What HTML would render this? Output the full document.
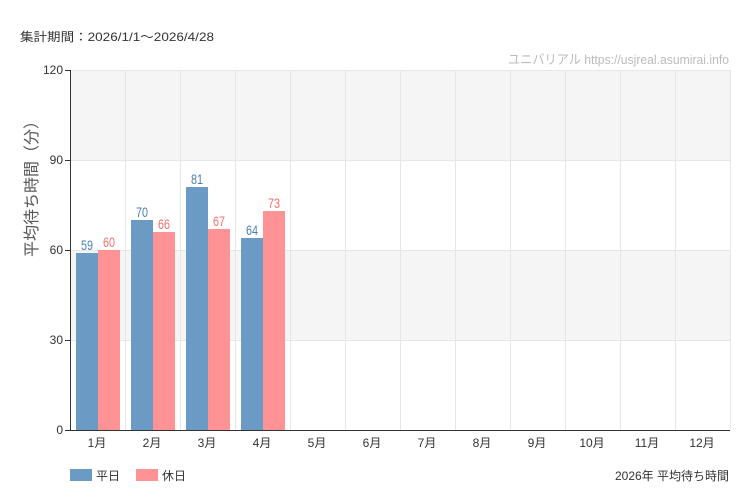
<!DOCTYPE html>
<html><head><meta charset="utf-8"><style>
body{margin:0;background:#fff}
svg{display:block;font-family:"Liberation Sans","Noto Sans CJK JP",sans-serif}
</style></head><body>
<svg width="750" height="500" viewBox="0 0 750 500">
<rect width="750" height="500" fill="#fff"/>
<text x="20" y="41" font-size="12" fill="#333" textLength="194" lengthAdjust="spacingAndGlyphs">集計期間：2026/1/1～2026/4/28</text>
<text x="508" y="64" font-size="13" fill="#bbb" textLength="221" lengthAdjust="spacingAndGlyphs">ユニバリアル  https://usjreal.asumirai.info</text>
<rect x="70" y="70" width="660" height="90" fill="#f5f5f5"/>
<rect x="70" y="250" width="660" height="90" fill="#f5f5f5"/>
<g stroke="#e6e6e6" stroke-width="1">
<line x1="70" y1="70.5" x2="730" y2="70.5"/><line x1="70" y1="160.5" x2="730" y2="160.5"/>
<line x1="70" y1="250.5" x2="730" y2="250.5"/><line x1="70" y1="340.5" x2="730" y2="340.5"/>
<line x1="125.5" y1="70" x2="125.5" y2="430"/><line x1="180.5" y1="70" x2="180.5" y2="430"/>
<line x1="235.5" y1="70" x2="235.5" y2="430"/><line x1="290.5" y1="70" x2="290.5" y2="430"/>
<line x1="345.5" y1="70" x2="345.5" y2="430"/><line x1="400.5" y1="70" x2="400.5" y2="430"/>
<line x1="455.5" y1="70" x2="455.5" y2="430"/><line x1="510.5" y1="70" x2="510.5" y2="430"/>
<line x1="565.5" y1="70" x2="565.5" y2="430"/><line x1="620.5" y1="70" x2="620.5" y2="430"/>
<line x1="675.5" y1="70" x2="675.5" y2="430"/><line x1="730.5" y1="70" x2="730.5" y2="430"/>
</g>
<g fill="#6b9ac4">
<rect x="76" y="253" width="22" height="177"/><rect x="131" y="220" width="22" height="210"/>
<rect x="186" y="187" width="22" height="243"/><rect x="241" y="238" width="22" height="192"/>
</g>
<g fill="#ff9294">
<rect x="98" y="250" width="22" height="180"/><rect x="153" y="232" width="22" height="198"/>
<rect x="208" y="229" width="22" height="201"/><rect x="263" y="211" width="22" height="219"/>
</g>
<g font-size="14" lengthAdjust="spacingAndGlyphs">
<g fill="#4a7fb5"><text x="81" y="250" textLength="12" lengthAdjust="spacingAndGlyphs">59</text><text x="136" y="217" textLength="12" lengthAdjust="spacingAndGlyphs">70</text><text x="191" y="184" textLength="12" lengthAdjust="spacingAndGlyphs">81</text><text x="246" y="235" textLength="12" lengthAdjust="spacingAndGlyphs">64</text></g>
<g fill="#f76f6f"><text x="103" y="247" textLength="12" lengthAdjust="spacingAndGlyphs">60</text><text x="158" y="229" textLength="12" lengthAdjust="spacingAndGlyphs">66</text><text x="213" y="226" textLength="12" lengthAdjust="spacingAndGlyphs">67</text><text x="268" y="208" textLength="12" lengthAdjust="spacingAndGlyphs">73</text></g>
</g>
<line x1="70.5" y1="70" x2="70.5" y2="430" stroke="#333"/>
<line x1="70" y1="430.5" x2="730" y2="430.5" stroke="#333"/>
<g stroke="#333"><line x1="65" y1="70.5" x2="70" y2="70.5"/><line x1="65" y1="160.5" x2="70" y2="160.5"/><line x1="65" y1="250.5" x2="70" y2="250.5"/><line x1="65" y1="340.5" x2="70" y2="340.5"/><line x1="65" y1="430.5" x2="70" y2="430.5"/></g>
<g font-size="12" fill="#333" text-anchor="end">
<text x="63" y="74">120</text><text x="63" y="164">90</text><text x="63" y="254">60</text><text x="63" y="344">30</text><text x="63" y="434">0</text>
</g>
<g font-size="12" fill="#333" text-anchor="middle">
<text x="97" y="447">1月</text><text x="152" y="447">2月</text><text x="207" y="447">3月</text><text x="262" y="447">4月</text>
<text x="317" y="447">5月</text><text x="372" y="447">6月</text><text x="427" y="447">7月</text><text x="482" y="447">8月</text>
<text x="537" y="447">9月</text><text x="592" y="447">10月</text><text x="647" y="447">11月</text><text x="702" y="447">12月</text>
</g>
<text transform="translate(37,185) rotate(-90)" font-size="16" fill="#555" text-anchor="middle">平均待ち時間（分）</text>
<rect x="70" y="469" width="22" height="12" fill="#6b9ac4"/>
<text x="96" y="480" font-size="12" fill="#333">平日</text>
<rect x="136" y="469" width="22" height="12" fill="#ff9294"/>
<text x="162" y="480" font-size="12" fill="#333">休日</text>
<text x="729" y="480" font-size="12" fill="#333" text-anchor="end">2026年 平均待ち時間</text>
</svg>
</body></html>
